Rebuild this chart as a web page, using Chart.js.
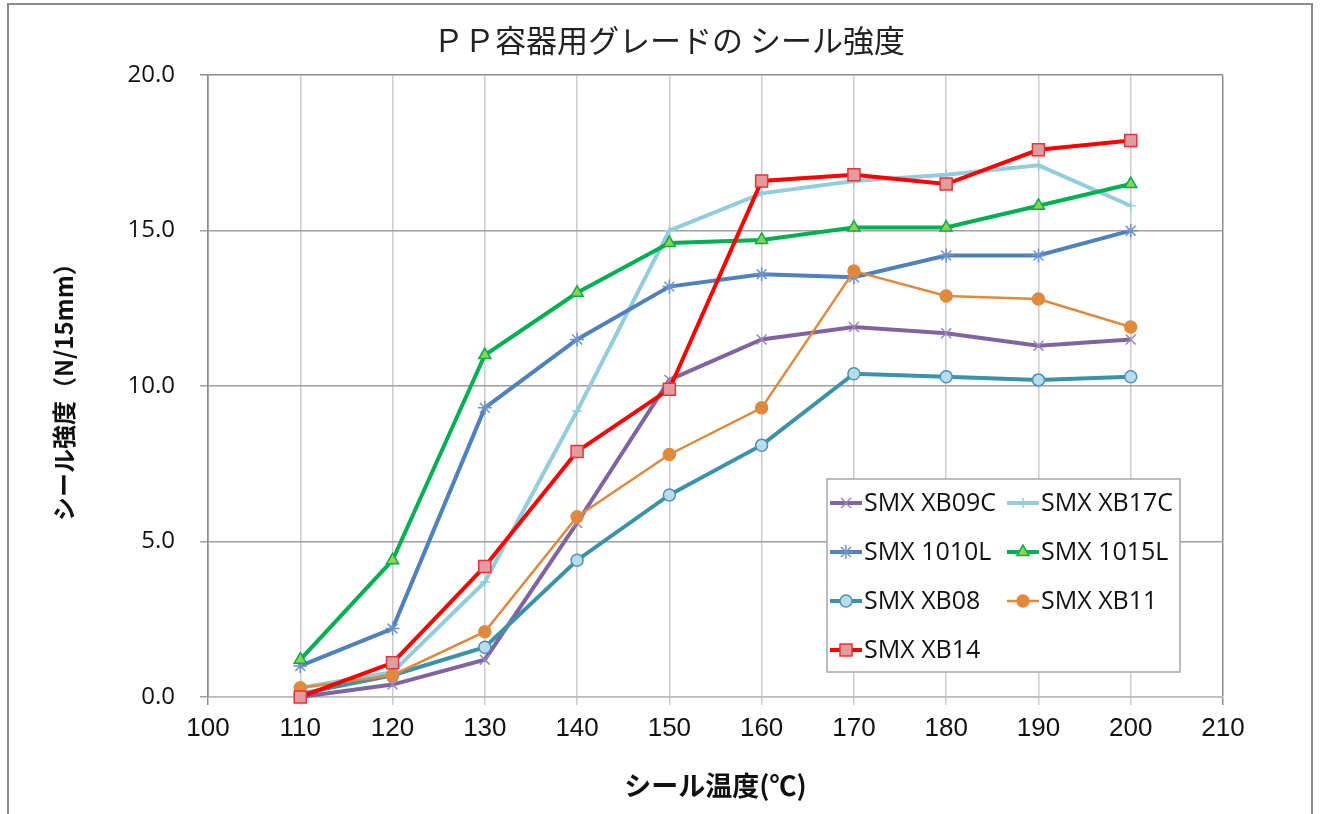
<!DOCTYPE html>
<html>
<head>
<meta charset="utf-8">
<script src="https://cdn.jsdelivr.net/npm/chart.js@4/dist/chart.umd.min.js"></script>
<style>
  html, body { margin: 0; padding: 0; background: #fff; }
  canvas { display: block; }
</style>
</head>
<body>
<canvas id="myChart" width="1320" height="814"></canvas>
<script>
'use strict';
// data
const temps = [110, 120, 130, 140, 150, 160, 170, 180, 190, 200];
const xb09c = [0.0, 0.4, 1.2, 5.6, 10.2, 11.5, 11.9, 11.7, 11.3, 11.5];
const xb17c = [0.3, 0.8, 3.7, 9.2, 15.0, 16.2, 16.6, 16.8, 17.1, 15.8];
const s1010l = [1.0, 2.2, 9.3, 11.5, 13.2, 13.6, 13.5, 14.2, 14.2, 15.0];
const s1015l = [1.2, 4.4, 11.0, 13.0, 14.6, 14.7, 15.1, 15.1, 15.8, 16.5];
const xb08 = [0.1, 0.7, 1.6, 4.4, 6.5, 8.1, 10.4, 10.3, 10.2, 10.3];
const xb11 = [0.3, 0.7, 2.1, 5.8, 7.8, 9.3, 13.7, 12.9, 12.8, 11.9];
const xb14 = [0.0, 1.1, 4.2, 7.9, 9.9, 16.6, 16.8, 16.5, 17.6, 17.9];
const seriesNames = ['SMX XB09C', 'SMX XB17C', 'SMX 1010L', 'SMX 1015L', 'SMX XB08', 'SMX XB11', 'SMX XB14'];
const xTicks = [100, 110, 120, 130, 140, 150, 160, 170, 180, 190, 200, 210];
const yTicks = [0, 5, 10, 15, 20];

const toPoints = vals => vals.map((v, i) => ({ x: temps[i], y: v }));

const styles = [
    { line: '#8064A2', width: 4, point: 'crossRot', r: 7, fill: '#8064A2', stroke: '#9a86b8' },
    { line: '#93CDDD', width: 4, point: 'cross', r: 5, fill: '#93CDDD', stroke: '#93CDDD' },
    { line: '#4F81BD', width: 4, point: 'star', r: 7, fill: '#4F81BD', stroke: '#6f93c8' },
    { line: '#00B050', width: 4, point: 'triangle', r: 7, fill: '#92D050', stroke: '#00B050' },
    { line: '#3A93A6', width: 4, point: 'circle', r: 6, fill: '#B7DEE8', stroke: '#4F8FC0' },
    { line: '#E0893D', width: 2.5, point: 'circle', r: 6, fill: '#E0893D', stroke: '#E0893D' },
    { line: '#FF0000', width: 4, point: 'rect', r: 8.5, fill: '#E39C9E', stroke: '#E8333A' }
];
const allSeries = [xb09c, xb17c, s1010l, s1015l, xb08, xb11, xb14];

const datasets = allSeries.map((vals, i) => ({
    label: seriesNames[i],
    data: toPoints(vals),
    borderColor: styles[i].line,
    borderWidth: styles[i].width,
    backgroundColor: styles[i].fill,
    pointStyle: styles[i].point,
    pointRadius: styles[i].r,
    pointBackgroundColor: styles[i].fill,
    pointBorderColor: styles[i].stroke,
    pointBorderWidth: 1.5,
    tension: 0,
    clip: false,
    order: allSeries.length - 1 - i
}));

// frame + legend inside plot
const frameLegend = {
    id: 'frameLegend',
    beforeDraw(chart) {
        const c = chart.ctx;
        c.save();
        c.fillStyle = '#fff';
        c.fillRect(0, 0, chart.width, chart.height);
        c.strokeStyle = '#8c8c8c';
        c.lineWidth = 2;
        c.strokeRect(8, 4, 1304, 900);
        c.restore();
    },
    afterDraw(chart) {
        const c = chart.ctx;
        const bx = 827, by = 479, bw = 353, bh = 193;
        c.save();
        c.fillStyle = '#fff';
        c.fillRect(bx, by, bw, bh);
        c.strokeStyle = '#a6a6a6';
        c.lineWidth = 1.5;
        c.strokeRect(bx, by, bw, bh);
        c.font = '25px "Open Sans", "Noto Sans", sans-serif';
        c.textBaseline = 'middle';
        c.fillStyle = '#111';
        chart.data.datasets.forEach((ds, i) => {
            const col = i % 2, row = Math.floor(i / 2);
            const x0 = 830 + col * 177;
            const y = 503 + row * 49;
            c.strokeStyle = ds.borderColor;
            c.lineWidth = ds.borderWidth;
            c.beginPath();
            c.moveTo(x0, y);
            c.lineTo(x0 + 32, y);
            c.stroke();
            if (Chart.helpers && Chart.helpers.drawPoint) {
                c.fillStyle = ds.pointBackgroundColor;
                c.strokeStyle = ds.pointBorderColor;
                c.lineWidth = ds.pointBorderWidth;
                Chart.helpers.drawPoint(c, { pointStyle: ds.pointStyle, radius: ds.pointRadius, rotation: 0, borderWidth: ds.pointBorderWidth }, x0 + 16, y);
            }
            c.fillStyle = '#111';
            c.fillText(ds.label, x0 + 34, y + 1);
        });
        c.restore();
    }
};

const ctx = document.getElementById('myChart');
const myChart = new Chart(ctx.getContext('2d'), {
    type: 'line',
    data: { datasets: datasets },
    plugins: [frameLegend],
    options: {
        responsive: false,
        animation: false,
        layout: { padding: { left: 18, right: 0, top: 0, bottom: 0 } },
        plugins: {
            legend: { display: false },
            tooltip: { enabled: false },
            title: {
                display: true,
                text: 'ＰＰ容器用グレードの シール強度',
                color: '#222',
                font: { family: '"Noto Sans CJK JP", sans-serif', size: 31, weight: 'normal' },
                padding: { top: 22, bottom: 16 }
            }
        },
        scales: {
            x: {
                type: 'linear',
                min: 100,
                max: 210,
                afterBuildTicks: s => { s.ticks = xTicks.map(v => ({ value: v })); },
                afterFit: s => { s.height = 117; },
                ticks: {
                    color: '#111',
                    padding: 8,
                    maxRotation: 0,
                    font: { family: '"Liberation Sans", Arial, sans-serif', size: 26 }
                },
                grid: {
                    color: c => (c.tick && (c.tick.value === 100 || c.tick.value === 210)) ? '#8c8c8c' : '#cccccc',
                    lineWidth: 1.5,
                    tickLength: 8
                },
                border: { color: '#bdbdbd', width: 1.5 },
                title: {
                    display: true,
                    text: 'シール温度(℃)',
                    color: '#111',
                    font: { family: '"Noto Sans CJK JP", sans-serif', size: 27, weight: 'bold' },
                    padding: { top: 0, bottom: 12 }
                }
            },
            y: {
                min: 0,
                max: 20,
                afterBuildTicks: s => { s.ticks = yTicks.map(v => ({ value: v })); },
                afterFit: s => { s.width = 190; },
                ticks: {
                    color: '#111',
                    padding: 25,
                    font: { family: '"Open Sans", "Noto Sans", sans-serif', size: 24 },
                    callback: v => v.toFixed(1)
                },
                grid: {
                    color: c => (c.tick && c.tick.value === 20) ? '#8c8c8c' : '#a0a0a0',
                    lineWidth: 1.5,
                    tickLength: 8
                },
                border: { color: '#8c8c8c', width: 1.5 },
                title: {
                    display: true,
                    text: 'シール強度（N/15mm）',
                    color: '#111',
                    font: { family: '"Noto Sans CJK JP", sans-serif', size: 24, weight: 'bold' },
                    padding: { top: 31, bottom: 0 }
                }
            },
            // empty right axis, keeps the plot narrower than the title box
            yr: {
                position: 'right',
                min: 0,
                max: 20,
                afterFit: s => { s.width = 97; },
                ticks: { display: false },
                grid: { display: false },
                border: { display: false }
            }
        }
    }
});
</script>
</body>
</html>
